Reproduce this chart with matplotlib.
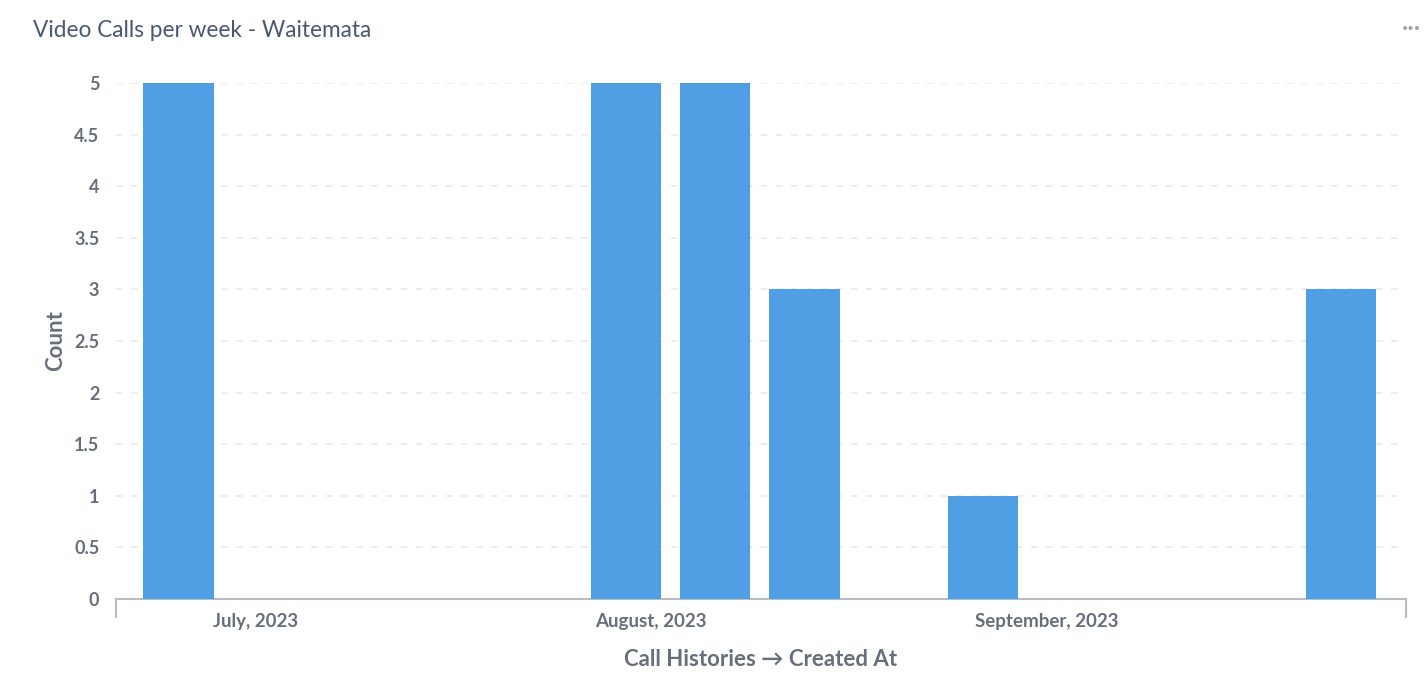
import pandas as pd
import matplotlib.pyplot as plt
import matplotlib.dates as mdates

# weekly call counts (week starting Sunday)
weeks = ["2023-06-25", "2023-07-30", "2023-08-06", "2023-08-13", "2023-08-27", "2023-09-24"]
counts = [5, 5, 5, 3, 1, 3]
month_ticks = ["2023-07-01", "2023-08-01", "2023-09-01"]
month_labels = ["July, 2023", "August, 2023", "September, 2023"]

BLUE = "#509EE3"
TEXT = "#696E7B"
TITLE = "#4C5773"

plt.rcParams['font.family'] = ['Lato', 'DejaVu Sans']

df = pd.DataFrame({"week": pd.to_datetime(weeks), "count": counts})

fig = plt.figure(figsize=(14.25, 6.74), dpi=100)
ax = fig.add_axes([0.0814, 0.1113, 0.9053, 0.7656])

ax.bar(df["week"], df["count"], width=5.5, color=BLUE, zorder=3)

ax.set_ylim(0, 5)
ax.set_yticks([0, 0.5, 1, 1.5, 2, 2.5, 3, 3.5, 4, 4.5, 5])
ax.set_yticklabels(["0", "0.5", "1", "1.5", "2", "2.5", "3", "3.5", "4", "4.5", "5"])
ax.set_xlim(pd.Timestamp("2023-06-25") - pd.Timedelta(days=4.9),
            pd.Timestamp("2023-09-24") + pd.Timedelta(days=5.1))
ax.set_xticks(pd.to_datetime(month_ticks))
ax.set_xticklabels(month_labels)

ax.grid(True, axis='y', linestyle=(0, (4, 5)), color="#E8EAED", linewidth=1.2, zorder=0)
for side in ["top", "right", "left"]:
    ax.spines[side].set_visible(False)
ax.spines["bottom"].set_color("#B8BBC3")
ax.spines["bottom"].set_linewidth(1.5)

ax.tick_params(axis='y', length=0, pad=12, labelsize=13, labelcolor=TEXT)
ax.tick_params(axis='x', length=0, pad=10, labelsize=13.5, labelcolor=TEXT)
for lbl in ax.get_xticklabels() + ax.get_yticklabels():
    lbl.set_fontweight('bold')

# small end ticks on the x axis line
ax.plot([0, 0], [0, -0.035], transform=ax.transAxes, color="#B8BBC3", lw=1.5, clip_on=False)
ax.plot([1, 1], [0, -0.035], transform=ax.transAxes, color="#B8BBC3", lw=1.5, clip_on=False)

ax.set_xlabel("Call Histories \u2192 Created At", fontsize=16, fontweight='bold',
              color=TEXT, labelpad=14)
ax.set_ylabel("Count", fontsize=16, fontweight='bold', color=TEXT, labelpad=6)

fig.text(0.023, 0.955, "Video Calls per week - Waitemata", fontsize=16.3, color=TITLE,
         ha='left', va='center')
fig.text(0.997, 0.958, "\u2022\u2022\u2022", fontsize=8, color="#A0A4B0", ha='right', va='center')

plt.savefig("out.png", dpi=100)
